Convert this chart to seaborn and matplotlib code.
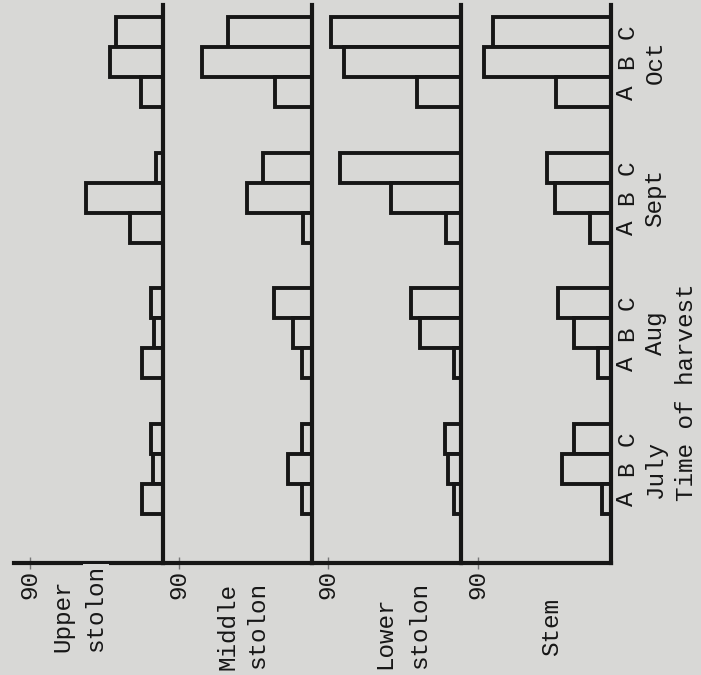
import numpy as np
import pandas as pd
import matplotlib
matplotlib.use("Agg")
import matplotlib.pyplot as plt
import seaborn as sns

# ---------------- data ----------------
months = ["July", "Aug", "Sept", "Oct"]
harvests = ["A", "B", "C"]
parts = ["Upper stolon", "Middle stolon", "Lower stolon", "Stem"]
part_labels = [["Upper", "stolon"], ["Middle", "stolon"], ["Lower", "stolon"], ["Stem"]]
# values ordered July A,B,C / Aug A,B,C / Sept A,B,C / Oct A,B,C
upper_stolon = [14, 7, 8, 14, 6, 8, 22, 52, 5, 15, 36, 32]
middle_stolon = [7, 16, 7, 7, 13, 26, 6, 44, 33, 25, 74, 57]
lower_stolon = [5, 9, 11, 5, 28, 34, 10, 47, 82, 30, 79, 88]
stem = [6, 33, 25, 9, 25, 36, 14, 38, 43, 37, 86, 80]
series = [upper_stolon, middle_stolon, lower_stolon, stem]
scale_tick = 90
x_axis_title = "Time of harvest"

rows = []
for p, vals in zip(parts, series):
    k = 0
    for mi, m in enumerate(months):
        for hi, h in enumerate(harvests):
            rows.append(dict(part=p, month=m, harvest=h, value=vals[k],
                             pos=(len(months) - 1 - mi) * 4.5 + (len(harvests) - 1 - hi)))
            k += 1
df = pd.DataFrame(rows)

# ---------------- style ----------------
sns.set_theme(style="white")
plt.rcParams["font.family"] = ["Liberation Mono", "DejaVu Sans Mono"]
bg = "#d8d8d6"
ink = "#161616"
FS = 17.5

W, H = 701, 675
fig = plt.figure(figsize=(W / 100, H / 100), dpi=100, facecolor=bg)

def fx(px):
    return px / W

def fy(py):
    return 1 - py / H

baselines = [163, 312, 461, 611]
panel_w = 149
top_px, bot_px = 5, 563
px_per_unit = 1.48
y0_px, step_px = 32, 30.13

for i, (p, base) in enumerate(zip(parts, baselines)):
    ax = fig.add_axes([fx(base - panel_w), fy(bot_px), panel_w / W, (bot_px - top_px) / H])
    ax.set_facecolor("none")
    sub = df[df.part == p]
    sns.barplot(data=sub, x="value", y="pos", orient="y", native_scale=True,
                width=1.0, color=bg, saturation=1, edgecolor=ink, linewidth=2.8,
                errorbar=None, ax=ax)
    ax.set_xlim(panel_w / px_per_unit, 0)
    ax.set_ylim((bot_px - y0_px) / step_px, -(y0_px - top_px) / step_px)
    for s in ["left", "top"]:
        ax.spines[s].set_visible(False)
    for s in ["right", "bottom"]:
        ax.spines[s].set_visible(True)
        ax.spines[s].set_color(ink)
        ax.spines[s].set_linewidth(3)
    ax.set_xlabel("")
    ax.set_ylabel("")
    ax.set_xticks([scale_tick])
    ax.set_xticklabels([str(scale_tick)], rotation=90, fontsize=FS, color=ink)
    ax.tick_params(axis="x", bottom=True, direction="inout", length=8, width=1,
                   color="#777777", pad=1)
    if i < len(parts) - 1:
        ax.set_yticks([])
    else:
        ticks = sub.pos.tolist()
        ax.set_yticks(ticks)
        ax.set_yticklabels(sub.harvest.tolist(), rotation=90, fontsize=FS, color=ink,
                           va="center")
        ax.yaxis.tick_right()
        ax.tick_params(axis="y", right=True, left=False, length=0, pad=3)
        # month labels centred on the middle harvest
        for m in months:
            mpos = sub[(sub.month == m) & (sub.harvest == harvests[1])].pos.iloc[0]
            ax.text(-(655 - base) / px_per_unit, mpos, m, rotation=90, ha="center",
                    va="center", fontsize=FS, color=ink, clip_on=False)
        jpos = sub[(sub.month == months[0]) & (sub.harvest == harvests[1])].pos.iloc[0]
        ax.text(-(686 - base) / px_per_unit, jpos + 1.05, x_axis_title, rotation=90,
                ha="center", va="bottom", fontsize=FS, color=ink, clip_on=False)

# panel names under the axis
label_pos = [[(63, 652), (96, 652)], [(228, 670), (258, 669)],
             [(385, 669), (420, 669)], [(552, 656)]]
for lines, poss in zip(part_labels, label_pos):
    for j, (txt, (x, y)) in enumerate(zip(lines, poss)):
        kw = {}
        if txt == "stolon" and lines[0] == "Upper":
            kw = dict(bbox=dict(facecolor=bg, edgecolor="none", pad=1))
        fig.text(fx(x), fy(y), txt, rotation=90, ha="center", va="bottom",
                 fontsize=FS, color=ink, **kw)

fig.savefig("out.png", dpi=100, facecolor=bg)
